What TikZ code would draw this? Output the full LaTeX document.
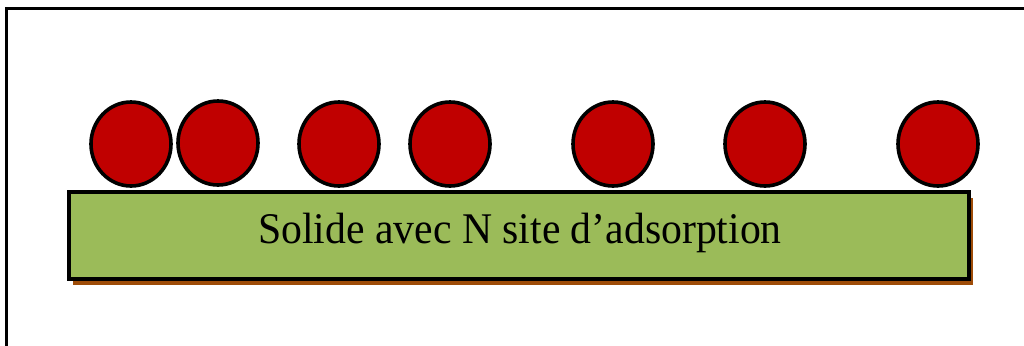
\documentclass[tikz,border=0pt]{standalone}
\usepackage{fontspec}
\setmainfont{Liberation Serif}
\usetikzlibrary{shapes.geometric,shadows}
\definecolor{solidgreen}{RGB}{155,187,89}
\definecolor{shadowbrown}{RGB}{158,76,8}
\definecolor{adsred}{RGB}{192,0,0}
\begin{document}
\begin{tikzpicture}[x=1pt,y=-1pt,
  molecule/.style={ellipse,draw=black,line width=3.6pt,fill=adsred,
    minimum width=80pt,minimum height=84pt,inner sep=0pt},
  solidbox/.style={rectangle,draw=black,line width=4pt,fill=solidgreen,
    minimum width=900pt,minimum height=87pt,inner sep=0pt,
    drop shadow={shadow xshift=4pt,shadow yshift=-6pt,fill=shadowbrown,opacity=1}},
  boxlabel/.style={anchor=base,inner sep=0pt,
    font=\fontsize{41.7}{50}\selectfont}]
\useasboundingbox (0,0) rectangle (1024,345);
% outer frame, cut at the page edge (only top and left edges show)
\begin{scope}
\clip (0,0) rectangle (1024,345);
\coordinate (fbl) at (6,400);
\coordinate (ftl) at (6,9);
\coordinate (ftr) at (1100,9);
\draw[line width=3pt] (fbl) -- (ftl) -- (ftr);
\end{scope}
% the solid surface
\node[solidbox] (solid) at (519,235.5) {};
\node[boxlabel] (lbl) at (520,243) {\scalebox{1}[1.05]{Solide avec N site d’adsorption}};
% adsorbed molecules
\node[molecule] (m1) at (131,144) {};
\node[molecule] (m2) at (218,143) {};
\node[molecule] (m3) at (339,144) {};
\node[molecule] (m4) at (450,144) {};
\node[molecule] (m5) at (613,144) {};
\node[molecule] (m6) at (765,144) {};
\node[molecule] (m7) at (938,144) {};
\end{tikzpicture}
\end{document}
